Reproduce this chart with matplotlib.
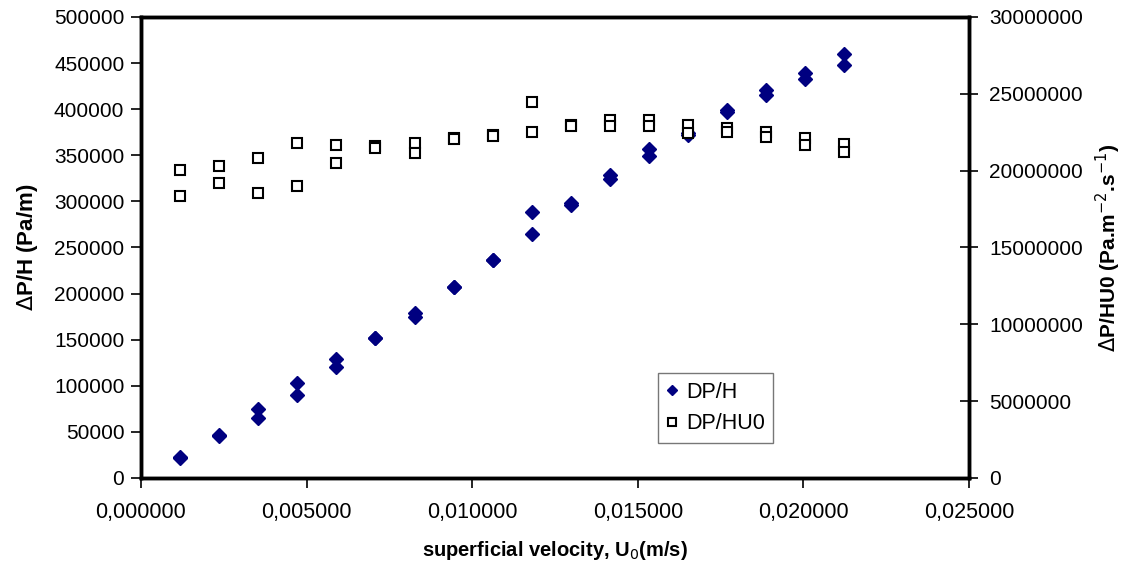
import numpy as np
import matplotlib
matplotlib.use('Agg')
import matplotlib.pyplot as plt
from matplotlib.ticker import FuncFormatter

plt.rcParams['font.family'] = ['Liberation Sans', 'DejaVu Sans']

# superficial velocity (m/s), two repeats per velocity
u0 = [0.00118, 0.00236, 0.00354, 0.00472, 0.00590, 0.00708, 0.00826, 0.00944, 0.01062,
      0.01180, 0.01298, 0.01416, 0.01534, 0.01652, 0.01770, 0.01888, 0.02006, 0.02124]

# DP/H (Pa/m)
dph_a = [22800, 46600, 74800, 103400, 128700, 151800, 178600, 207500, 236400,
         288500, 298000, 328600, 356500, 373800, 399100, 420800, 439600, 459800]
dph_b = [22000, 46000, 65400, 90400, 120700, 151800, 175000, 207500, 236400,
         265000, 296100, 324300, 349200, 372000, 396500, 415700, 432400, 448200]

# DP/HU0 (Pa.m-2.s-1)
dphu_a = [20.04e6, 20.28e6, 20.82e6, 21.78e6, 21.67e6, 21.60e6, 21.78e6, 22.10e6, 22.35e6,
          24.49e6, 22.95e6, 23.30e6, 23.30e6, 22.95e6, 22.80e6, 22.50e6, 22.10e6, 21.73e6]
dphu_b = [18.35e6, 19.20e6, 18.55e6, 18.98e6, 20.48e6, 21.50e6, 21.13e6, 22.04e6, 22.26e6,
          22.54e6, 22.90e6, 22.90e6, 22.90e6, 22.47e6, 22.54e6, 22.20e6, 21.67e6, 21.23e6]

x = np.array(u0 + u0)
y1 = np.array(dph_a + dph_b)
y2 = np.array(dphu_a + dphu_b)

fig = plt.figure(figsize=(11.26, 5.65), dpi=100)
ax = fig.add_axes([0.1252, 0.154, 0.7354, 0.816])
ax2 = ax.twinx()

h1, = ax.plot(x, y1, linestyle='none', marker='D', markersize=7,
              color='#000080', markeredgecolor='#000080', label='DP/H')
h2, = ax2.plot(x, y2, linestyle='none', marker='s', markersize=7.5,
               markerfacecolor='white', markeredgecolor='black', markeredgewidth=1.5,
               label='DP/HU0')

ax.set_xlim(0, 0.025)
ax.set_ylim(0, 500000)
ax2.set_ylim(0, 30000000)
ax.set_xticks(np.arange(0, 0.0251, 0.005))
ax.set_yticks(np.arange(0, 500001, 50000))
ax2.set_yticks(np.arange(0, 30000001, 5000000))
ax.xaxis.set_major_formatter(FuncFormatter(lambda v, p: ('%.6f' % v).replace('.', ',')))
ax.yaxis.set_major_formatter(FuncFormatter(lambda v, p: '%d' % v))
ax2.yaxis.set_major_formatter(FuncFormatter(lambda v, p: '%d' % v))

for a in (ax, ax2):
    for s in a.spines.values():
        s.set_linewidth(2.5)
ax.tick_params(axis='y', labelsize=15, length=7, width=1.2, direction='out', pad=5)
ax.tick_params(axis='x', labelsize=15.5, length=7, width=1.2, direction='out', pad=10)
ax2.tick_params(axis='y', labelsize=15, length=13, width=1.2, direction='inout', pad=8)

ax.set_xlabel('superficial velocity, U$_0$(m/s)', fontsize=14.5, fontweight='bold', labelpad=12)
ax.set_ylabel('$\\Delta$P/H (Pa/m)', fontsize=16, fontweight='bold', labelpad=10)
ax2.set_ylabel('$\\Delta$P/HU0 (Pa.m$^{-2}$.s$^{-1}$)', fontsize=15, fontweight='bold', labelpad=8)

leg = ax2.legend([h1, h2], ['DP/H', 'DP/HU0'], loc='upper left',
                 bbox_to_anchor=(658 / 1126, 1 - 373 / 565), bbox_transform=fig.transFigure,
                 borderaxespad=0, fontsize=15.5, frameon=True, fancybox=False,
                 edgecolor='#555555', handlelength=0.5, handletextpad=0.4, borderpad=0.4,
                 labelspacing=0.5, markerscale=0.75)
leg.get_frame().set_linewidth(1.0)

fig.savefig('out.png', dpi=100)
